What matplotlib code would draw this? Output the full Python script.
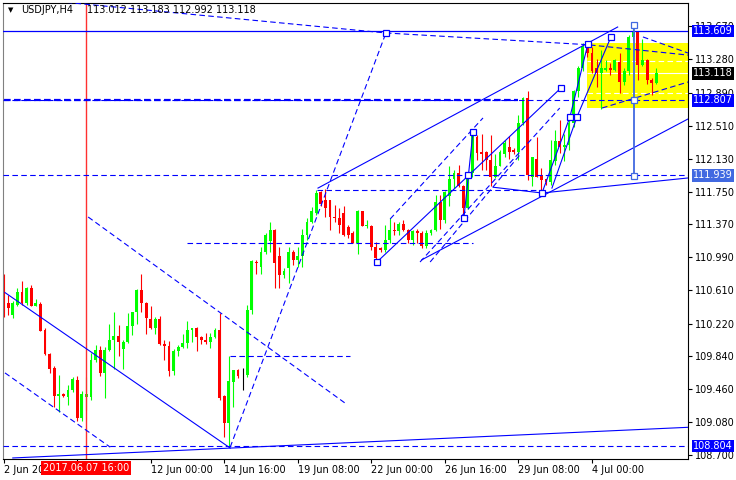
import numpy as np
import matplotlib
matplotlib.use("Agg")
import matplotlib.pyplot as plt
import matplotlib.transforms as mtrans
from matplotlib.patches import Rectangle

# USDJPY H4 candles (bar 0 = 2 Jun 2017 16:00)
opens = [110.75, 110.46, 110.32, 110.44, 110.59, 110.46, 110.63, 110.43, 110.45, 110.15,
         109.87, 109.71, 109.38, 109.41, 109.37, 109.45, 109.57, 109.13, 109.37, 109.37,
         109.80, 109.92, 109.65, 109.91, 110.03, 110.08, 109.93, 110.01, 110.19, 110.35,
         110.61, 110.46, 110.27, 110.17, 110.27, 109.98, 109.96, 109.67, 109.90, 109.95,
         110.00, 110.15, 110.17, 110.07, 110.03, 110.01, 110.06, 110.15, 109.38, 109.07,
         109.55, 109.68, 109.61, 109.62, 110.38, 110.93, 110.88, 111.05, 111.18, 111.31,
         111.00, 110.78, 110.86, 111.05, 110.96, 111.00, 111.25, 111.40, 111.50, 111.74,
         111.65, 111.65, 111.46, 111.44, 111.50, 111.34, 111.27, 111.15, 111.52, 111.35,
         111.35, 111.11, 111.10, 111.07, 111.19, 111.30, 111.29, 111.37, 111.31, 111.19,
         111.29, 111.27, 111.12, 111.27, 111.30, 111.63, 111.42, 111.70, 111.90, 111.96,
         111.81, 111.56, 111.96, 112.38, 112.21, 112.21, 112.11, 111.92, 112.05, 112.19,
         112.27, 112.23, 112.21, 112.54, 112.83, 111.92, 112.13, 111.94, 111.90, 111.86,
         112.10, 112.33, 112.26, 112.29, 112.54, 112.91, 113.18, 113.46, 113.35, 113.18,
         113.12, 113.16, 113.18, 113.16, 113.25, 113.02, 113.14, 113.54, 113.60, 113.22,
         113.27, 113.04, 113.012]
highs = [110.80, 110.55, 110.48, 110.63, 110.71, 110.65, 110.67, 110.50, 110.47, 110.17,
         109.88, 109.73, 109.63, 109.42, 109.51, 109.60, 109.61, 109.44, 109.60, 109.88,
         109.97, 109.96, 109.95, 110.22, 110.36, 110.21, 110.03, 110.34, 110.36, 110.62,
         110.80, 110.47, 110.42, 110.30, 110.31, 110.03, 110.02, 109.93, 109.97, 110.10,
         110.25, 110.17, 110.18, 110.08, 110.11, 110.11, 110.17, 110.34, 109.39, 109.85,
         109.68, 109.70, 109.71, 110.44, 110.96, 110.96, 111.11, 111.27, 111.40, 111.32,
         111.11, 110.86, 111.11, 111.07, 111.11, 111.32, 111.44, 111.57, 111.77, 111.76,
         111.78, 111.65, 111.59, 111.56, 111.58, 111.36, 111.29, 111.54, 111.53, 111.42,
         111.36, 111.17, 111.11, 111.36, 111.44, 111.40, 111.40, 111.42, 111.32, 111.30,
         111.32, 111.29, 111.30, 111.32, 111.71, 111.71, 111.76, 112.04, 112.00, 112.06,
         111.82, 111.97, 112.44, 112.40, 112.42, 112.22, 112.40, 112.19, 112.23, 112.35,
         112.39, 112.25, 112.64, 112.85, 112.91, 112.15, 112.38, 112.02, 111.90, 112.35,
         112.46, 112.58, 112.42, 112.64, 112.93, 113.20, 113.47, 113.48, 113.42, 113.29,
         113.39, 113.27, 113.24, 113.28, 113.35, 113.18, 113.56, 113.68, 113.61, 113.52,
         113.29, 113.06, 113.183]
lows = [110.30, 110.32, 110.28, 110.42, 110.44, 110.44, 110.42, 110.42, 110.13, 109.86,
        109.65, 109.26, 109.20, 109.37, 109.28, 109.43, 109.09, 109.09, 109.22, 109.34,
        109.78, 109.61, 109.36, 109.90, 109.70, 109.84, 109.70, 110.00, 110.09, 110.22,
        110.36, 110.10, 110.16, 110.10, 109.97, 109.80, 109.61, 109.62, 109.85, 109.94,
        109.94, 110.01, 109.90, 109.98, 109.99, 109.94, 110.05, 109.34, 108.91, 108.80,
        109.26, 109.59, 109.45, 109.60, 110.33, 110.80, 110.80, 111.03, 111.05, 110.63,
        110.63, 110.75, 110.69, 110.90, 110.88, 110.88, 111.19, 111.38, 111.48, 111.58,
        111.46, 111.30, 111.40, 111.27, 111.23, 111.21, 111.15, 111.03, 111.35, 111.33,
        111.07, 110.93, 111.05, 111.05, 111.15, 111.25, 111.25, 111.29, 111.15, 111.13,
        111.15, 111.10, 111.10, 111.25, 111.29, 111.32, 111.38, 111.58, 111.79, 111.80,
        111.44, 111.55, 111.92, 112.11, 112.00, 112.00, 111.81, 111.91, 112.04, 112.15,
        112.13, 112.19, 112.11, 112.52, 111.88, 111.81, 111.92, 111.73, 111.83, 111.83,
        112.06, 112.20, 112.10, 112.23, 112.50, 112.85, 113.15, 113.31, 113.12, 112.96,
        112.71, 113.14, 113.10, 113.14, 112.89, 112.98, 113.10, 113.50, 113.04, 113.20,
        113.00, 112.87, 112.992]
closes = [110.38, 110.40, 110.46, 110.59, 110.46, 110.63, 110.43, 110.46, 110.14, 109.87,
          109.69, 109.38, 109.40, 109.38, 109.45, 109.58, 109.13, 109.40, 109.41, 109.80,
          109.92, 109.65, 109.91, 110.03, 110.08, 110.01, 110.01, 110.19, 110.35, 110.61,
          110.46, 110.28, 110.17, 110.27, 109.98, 109.96, 109.67, 109.90, 109.95, 110.00,
          110.15, 110.17, 110.07, 110.03, 110.01, 110.06, 110.15, 109.36, 109.07, 109.56,
          109.68, 109.61, 109.61, 110.38, 110.94, 110.92, 111.05, 111.25, 111.31, 110.92,
          110.78, 110.83, 111.05, 110.96, 111.00, 111.25, 111.40, 111.52, 111.73, 111.61,
          111.56, 111.46, 111.44, 111.36, 111.25, 111.25, 111.15, 111.52, 111.35, 111.36,
          111.11, 110.98, 111.07, 111.19, 111.30, 111.29, 111.37, 111.31, 111.19, 111.29,
          111.27, 111.12, 111.27, 111.30, 111.63, 111.42, 111.75, 111.90, 111.96, 111.81,
          111.56, 111.96, 112.39, 112.20, 112.19, 112.11, 111.92, 112.05, 112.21, 112.31,
          112.21, 112.21, 112.54, 112.83, 111.94, 112.15, 111.92, 111.88, 111.86, 112.12,
          112.33, 112.26, 112.29, 112.54, 112.91, 113.18, 113.43, 113.35, 113.14, 113.12,
          113.18, 113.18, 113.16, 113.27, 113.02, 113.14, 113.54, 113.60, 113.22, 113.27,
          113.04, 113.01, 113.118]

tick_bars = [0, 16, 32, 48, 64, 80, 96, 112, 128]
# the label under the red time marker is hidden on the terminal
tick_dates = ['2 Jun 2017', '', '12 Jun 00:00', '14 Jun 16:00', '19 Jun 08:00',
              '22 Jun 00:00', '26 Jun 16:00', '29 Jun 08:00', '4 Jul 00:00']
price_ticks = [108.700, 109.080, 109.460, 109.840, 110.220, 110.610, 110.990,
               111.370, 111.750, 112.130, 112.510, 112.890, 113.280, 113.670]

level_prices = [113.609, 112.807, 111.939, 108.804]
level_colors = ['#0000ff', '#0000ff', '#4169e1', '#0000ff']
bid = 113.118
event_bar = 18
event_label = '2017.06.07 16:00'

# analysis objects, anchors as (bar, price)
dashed_lines = [
    [(0.0, 114.01), (83.18, 113.586)],
    [(49.3, 108.79), (83.18, 113.586)],
    [(83.18, 113.586), (127.1, 113.45), (148.9, 113.33)],
    [(0.3, 109.65), (23.2, 108.79)],
    [(18.4, 111.455), (74.3, 109.30)],
    [(49.3, 109.846), (75.4, 109.846)],
    [(39.9, 111.151), (102.1, 111.151)],
    [(68.2, 111.768), (117.13, 111.768)],
    [(84.1, 111.432), (104.3, 112.602)],
    [(90.6, 110.934), (121.0, 112.717)],
    [(92.8, 110.934), (112.3, 112.173)],
    [(139.1, 113.54), (148.9, 113.354)],
    [(130.2, 112.717), (148.9, 113.018)],
]
solid_lines = [
    [(68.4, 111.79), (133.6, 113.655)],
    [(91.0, 110.96), (148.9, 112.59)],
    [(0.3, 110.58), (49.3, 108.78)],
    [(2.0, 108.665), (148.9, 109.02)],
    [(106.5, 111.80), (117.13, 111.733), (148.9, 111.907)],
    [(81.23, 110.934), (121.26, 112.949)],
    [(100.15, 111.444), (102.12, 112.44)],
    [(117.13, 111.733), (123.21, 112.613), (127.12, 113.458)],
    [(119.3, 111.79), (124.73, 112.613), (132.13, 113.539)],
]
box_bars = [83.18, 81.23, 100.15, 101.03, 102.12, 117.13, 123.21, 124.73, 127.12, 132.13, 121.26]
box_prices = [113.586, 110.934, 111.444, 111.942, 112.44, 111.733, 112.613, 112.613, 113.458, 113.539, 112.949]
vert_bar = 137.13
vert_prices = [113.678, 112.810, 111.930]
zone_bar = 127.0
zone_prices = (112.714, 113.474)
zone_levels = [113.26, 112.89]

DASH = (0, (5, 3))

fig = plt.figure(figsize=(7.36, 4.8), dpi=100)
ax = fig.add_axes([3/736, 21/480, 685/736, 456/480])
ax.set_xlim(-0.13, 148.9)
ax.set_ylim(108.653, 113.933)

# yellow zone with white levels
ax.add_patch(Rectangle((zone_bar, zone_prices[0]), 40, zone_prices[1] - zone_prices[0],
                       facecolor='yellow', edgecolor='none', zorder=1))
ax.hlines(zone_levels, zone_bar, 150, colors='white', linestyles=DASH, lw=0.8, zorder=1.2)
ax.hlines(bid, zone_bar, 150, colors='white', lw=0.8, zorder=1.2)

# candles
o = np.array(opens); h = np.array(highs); l = np.array(lows); c = np.array(closes)
x = np.arange(len(o))
col = np.where(c > o, '#00ff00', np.where(c < o, '#ff0000', '#000000'))
ax.vlines(x, l, h, colors=col, lw=0.8, zorder=2)
body = np.maximum(np.abs(c - o), 0.006)
ax.bar(x, body, bottom=np.minimum(o, c), width=0.62, color=col, linewidth=0, zorder=2)

# event line
ax.axvline(event_bar, color='#ff3030', lw=1.0, zorder=2.2)

# horizontal levels
ax.axhline(level_prices[0], color='blue', lw=0.9, zorder=3)
for p in level_prices[1:]:
    ax.axhline(p, color='blue', lw=0.8, ls=DASH, zorder=3)
ax.hlines(level_prices[1], 0, 112, colors='blue', lw=1.6, linestyles=(0, (3, 1.5)), zorder=3)

for seg in dashed_lines:
    xs, ys = zip(*seg)
    ax.plot(xs, ys, color='blue', lw=0.8, ls=DASH, zorder=3)
for seg in solid_lines:
    xs, ys = zip(*seg)
    ax.plot(xs, ys, color='blue', lw=0.8, zorder=3)

ax.plot([vert_bar, vert_bar], [vert_prices[0], vert_prices[-1]], color='#4169e1', lw=1.3, zorder=3)
ax.plot([vert_bar] * len(vert_prices), vert_prices, 's', ms=4, mfc='white', mec='#4169e1', mew=0.9, zorder=4)
ax.plot(box_bars, box_prices, 's', ms=4, mfc='white', mec='blue', mew=0.9, zorder=4)

# axes styling
for s in ax.spines.values():
    s.set_color('black')
    s.set_linewidth(0.8)
ax.spines['left'].set_color('#808080')
ax.yaxis.tick_right()
ax.set_yticks(price_ticks)
ax.set_yticklabels([f'{v:.3f}' for v in price_ticks])
ax.set_xticks(tick_bars)
ax.set_xticklabels(tick_dates)
for lbl in ax.get_xticklabels():
    lbl.set_horizontalalignment('left')
ax.tick_params(axis='y', length=3, width=0.8, pad=2, labelsize=7)
ax.tick_params(axis='x', length=3, width=0.8, pad=1.5, labelsize=7)

# price labels on the right
trans = mtrans.blended_transform_factory(ax.transAxes, ax.transData)
off = mtrans.offset_copy(trans, fig=fig, x=5, y=0, units='dots')
for p, cc in zip(level_prices, level_colors):
    ax.text(1.0, p, f'{p:.3f}', transform=off, ha='left', va='center', fontsize=7,
            color='white', zorder=5, bbox=dict(boxstyle='square,pad=0.15', fc=cc, ec='none'))
ax.text(1.0, bid, f'{bid:.3f}', transform=off, ha='left', va='center', fontsize=7,
        color='white', zorder=5, bbox=dict(boxstyle='square,pad=0.15', fc='black', ec='none'))

# event time label
ttrans = mtrans.blended_transform_factory(ax.transData, ax.transAxes)
toff = mtrans.offset_copy(ttrans, fig=fig, x=0, y=-4, units='dots')
ax.text(event_bar, 0, event_label, transform=toff, ha='center', va='top', fontsize=7,
        color='white', zorder=5, bbox=dict(boxstyle='square,pad=0.2', fc='#ff0000', ec='none'))

# header
fig.text(8/736, 1 - 10/480, '\u25bc', fontsize=5, va='center')
fig.text(21/736, 1 - 10/480, 'USDJPY,H4', fontsize=7, va='center')
fig.text(87/736, 1 - 10/480, '113.012 113.183 112.992 113.118', fontsize=7, va='center')

fig.savefig('out.png', dpi=100)
